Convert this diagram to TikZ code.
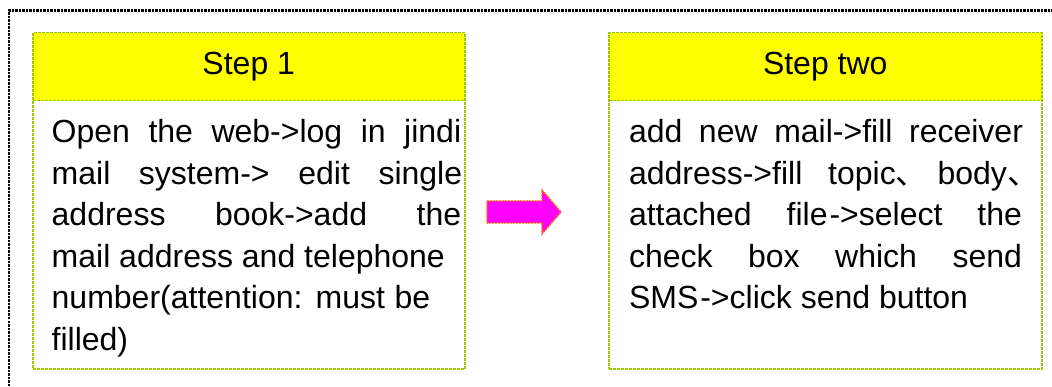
\documentclass[tikz,border=0pt]{standalone}
\usepackage{fontspec}
\setmainfont{Liberation Sans}
\newfontfamily\cjk{Noto Sans CJK SC}
\newcommand\dunhao{\makebox[16pt][l]{\cjk 、}}
\definecolor{boxgreen}{RGB}{153,204,0}
\definecolor{hdryellow}{RGB}{255,255,0}
\definecolor{arrowmag}{RGB}{255,0,255}
\definecolor{arroworange}{RGB}{255,102,0}
\tikzset{
  hdrbox/.style={draw=boxgreen, fill=hdryellow, line width=1.5pt, dash pattern=on 3pt off 1pt,
    anchor=north west, inner sep=0pt, minimum width=432pt, minimum height=68pt,
    font=\fontsize{32}{40}\selectfont},
  bodybox/.style={draw=boxgreen, line width=1.5pt, dash pattern=on 3pt off 1pt,
    anchor=north west, inner sep=0pt, minimum width=432pt, minimum height=268pt},
  txtline/.style={anchor=base west, inner sep=0pt, font=\fontsize{32}{40}\selectfont},
  outerframe/.style={draw=black, line width=2.2pt, dash pattern=on 2.5pt off 1pt},
  bigarrow/.style={fill=arrowmag, draw=arroworange, line width=1.3pt, dash pattern=on 2pt off 1pt}
}
\begin{document}
\begin{tikzpicture}[x=1pt,y=-1pt]
\useasboundingbox (0,0) rectangle (1052,387);
% outer dashed frame (only top and left visible)
\draw[outerframe] (9,400) -- (9,10.5) -- (1060,10.5);
% box 1
\node[bodybox] (b1) at (32,100) {};
\node[hdrbox] (h1) at (32,32) {Step 1};
% box 2
\node[bodybox, minimum width=433pt] (b2) at (608,100) {};
\node[hdrbox, minimum width=433pt] (h2) at (608,32) {Step two};
% text box 1
\node[txtline] (t11) at (51.5,143) {\makebox[409.5pt][s]{Open the web->log in jindi}};
\node[txtline] (t12) at (51.5,184.4) {\makebox[410.5pt][s]{mail system-> edit single}};
\node[txtline] (t13) at (51.5,225.8) {\makebox[409.5pt][s]{address book->add the}};
\node[txtline] (t14) at (51.5,267.2) {mail address and telephone};
\node[txtline] (t15) at (51.5,308.6) {\makebox[378.5pt][s]{number(attention: must be}};
\node[txtline] (t16) at (51.5,350) {filled)};
% text box 2
\node[txtline] (t21) at (628.8,143) {\makebox[394pt][s]{add new mail->fill receiver}};
\node[txtline] (t22) at (628.8,184.4) {\makebox[394pt][s]{address->fill topic\dunhao{} body\dunhao}};
\node[txtline] (t23) at (628.8,225.8) {\makebox[393pt][s]{attached file\kern2pt->select the}};
\node[txtline] (t24) at (628.8,267.2) {\makebox[393pt][s]{check box which send}};
\node[txtline] (t25) at (628.8,308.6) {SMS\kern2pt->click send button};
% arrow
\draw[bigarrow] (487,201) -- (542,201) -- (542,190) -- (561,212) -- (542,234) -- (542,223) -- (487,223) -- cycle;
\end{tikzpicture}
\end{document}
